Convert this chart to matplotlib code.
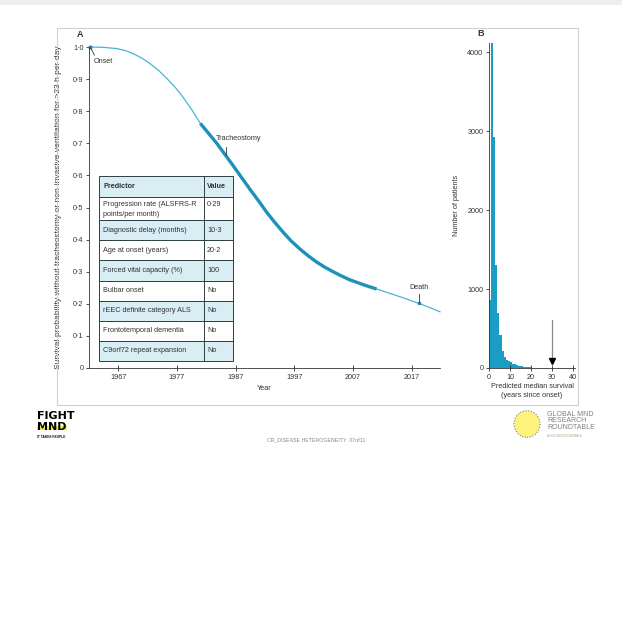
import numpy as np
import matplotlib
matplotlib.use("Agg")
import matplotlib.pyplot as plt
from matplotlib.patches import Rectangle, Circle

plt.rcParams['font.family'] = ['Liberation Sans', 'DejaVu Sans']

# panel A: survival curve of one simulated patient
years = [1962.2, 1964.5, 1966.8, 1968.2, 1969.5, 1971.0, 1972.4, 1973.9, 1975.3,
         1976.7, 1978.0, 1979.5, 1981.0, 1982.4, 1983.8, 1985.2, 1986.6, 1988.0,
         1989.4, 1990.9, 1992.3, 1993.7, 1995.1, 1996.5, 1998.0, 1999.4, 2000.8,
         2002.2, 2003.6, 2005.0, 2006.4, 2009.0, 2011.0, 2013.0, 2015.0, 2016.7,
         2018.4, 2020.1, 2021.8]
survival = [1.000, 0.999, 0.995, 0.989, 0.980, 0.966, 0.949, 0.927, 0.902,
            0.875, 0.845, 0.806, 0.762, 0.731, 0.700, 0.665, 0.630, 0.594,
            0.558, 0.521, 0.485, 0.453, 0.423, 0.395, 0.370, 0.349, 0.330,
            0.314, 0.300, 0.287, 0.275, 0.258, 0.246, 0.234, 0.222, 0.211,
            0.200, 0.188, 0.175]
onset_year = 1962.2
trach_start = 1981.0
trach_end = 2011.0
trach_label_year = 1985.4
death_year = 2018.2

year_ticks = [1967, 1977, 1987, 1997, 2007, 2017]
surv_ticks = [0, 0.1, 0.2, 0.3, 0.4, 0.5, 0.6, 0.7, 0.8, 0.9, 1.0]
surv_labels = ["0", "0·1", "0·2", "0·3", "0·4", "0·5", "0·6", "0·7", "0·8", "0·9", "1·0"]

predictors = ["Progression rate (ALSFRS-R\npoints/per month)", "Diagnostic delay (months)",
              "Age at onset (years)", "Forced vital capacity (%)", "Bulbar onset",
              "rEEC definite category ALS", "Frontotemporal dementia",
              "C9orf72 repeat expansion"]
values = ["0·29", "10·3", "20·2", "100", "No", "No", "No", "No"]

# panel B: histogram of predicted median survival
bin_edges = list(range(0, 26))
counts = [860, 4150, 2930, 1310, 700, 420, 220, 140, 105, 85, 70, 55, 45, 36, 28,
          22, 17, 13, 10, 8, 6, 4, 3, 2, 1]
count_ticks = [0, 1000, 2000, 3000, 4000]
surv_year_ticks = [0, 10, 20, 30, 40]
patient_median = 30

W, H = 622, 637
fig = plt.figure(figsize=(W / 100, H / 100), dpi=100)


def box(x0, y0, x1, y1):
    return [x0 / W, 1 - y1 / H, (x1 - x0) / W, (y1 - y0) / H]


# slide background bits
fig.patches.append(Rectangle((0, 1 - 5 / H), 1, 5 / H, transform=fig.transFigure,
                             facecolor="#efefef", edgecolor="none"))
fig.patches.append(Rectangle((57 / W, 1 - 405 / H), 521 / W, 377 / H,
                             transform=fig.transFigure, fill=False,
                             edgecolor="#d0d0d0", lw=0.8))

dark = "#333333"
thin_col = "#4ab3d8"
thick_col = "#1d92b8"
fs = 5.2

# ---- panel A ----
ax = fig.add_axes(box(89, 47, 440, 368))
yr = np.array(years)
sv = np.array(survival)
ax.plot(yr, sv, color=thin_col, lw=0.9, clip_on=False)
m = (yr >= trach_start) & (yr <= trach_end)
ax.plot(yr[m], sv[m], color=thick_col, lw=2.4, solid_capstyle="butt")
ax.plot([onset_year], [1.0], "o", ms=2, color="#2a7f9c", clip_on=False)

ax.set_xlim(1962.05, 2021.8)
ax.set_ylim(0, 1.0)
ax.set_xticks(year_ticks)
ax.set_xticklabels([str(y) for y in year_ticks])
ax.set_yticks(surv_ticks)
ax.set_yticklabels(surv_labels)
for s in ["top", "right"]:
    ax.spines[s].set_visible(False)
for s in ["left", "bottom"]:
    ax.spines[s].set_color(dark)
    ax.spines[s].set_linewidth(0.6)
ax.tick_params(axis="y", length=2.5, width=0.6, pad=1.5, labelsize=fs, colors=dark)
ax.tick_params(axis="x", direction="inout", length=4, width=0.6, pad=2, labelsize=fs,
               colors=dark)
ax.set_xlabel("Year", fontsize=fs, color=dark, labelpad=3)
ax.set_ylabel("Survival probability without tracheostomy or non-invasive ventilation "
              "for >23 h per day", fontsize=6.1, color=dark, labelpad=8)
ax.text(-0.025, 1.03, "A", transform=ax.transAxes, fontsize=6.5, fontweight="bold",
        color=dark, ha="center")

ax.annotate("Onset", xy=(onset_year + 0.2, 0.995), xytext=(onset_year + 0.7, 0.955),
            fontsize=fs, color=dark, ha="left", va="center",
            arrowprops=dict(arrowstyle="-", color=dark, lw=0.6,
                            shrinkA=0, shrinkB=0, relpos=(0.1, 1.0)))
ty = np.interp(trach_label_year, yr, sv)
ax.plot([trach_label_year, trach_label_year], [ty + 0.005, ty + 0.03], color=dark, lw=0.6)
ax.text(trach_label_year - 1.8, ty + 0.055, "Tracheostomy", fontsize=fs, color=dark,
        ha="left", va="center")
dy = np.interp(death_year, yr, sv)
ax.plot([death_year], [dy], "o", ms=1.5, color="#2a7f9c")
ax.plot([death_year, death_year], [dy + 0.005, dy + 0.028], color=dark, lw=0.6)
ax.text(death_year, dy + 0.05, "Death", fontsize=fs, color=dark, ha="center",
        va="center")

# ---- predictor table ----
tab = fig.add_axes(box(99, 176, 233, 361))
tab.set_axis_off()
row_h = [21, 23, 20, 20, 20, 20, 20, 20, 20]
total = sum(row_h)
tab.set_xlim(0, 134)
tab.set_ylim(total, 0)
split = 105
light = "#d8edf4"
y0 = 0
rows = [("Predictor", "Value")] + list(zip(predictors, values))
for i, (p, v) in enumerate(rows):
    h = row_h[i]
    fc = light if i % 2 == 0 else "white"
    tab.add_patch(Rectangle((0, y0), 134, h, facecolor=fc, edgecolor="#2f3f3f", lw=0.7,
                            clip_on=False))
    tab.plot([split, split], [y0, y0 + h], color="#2f3f3f", lw=0.7)
    weight = "bold" if i == 0 else "normal"
    if i == 1:
        tab.text(4, y0 + 4, p, fontsize=fs, color=dark, ha="left", va="top",
                 linespacing=1.5)
        tab.text(split + 3, y0 + 7, v, fontsize=fs, color=dark, ha="left", va="center")
    else:
        tab.text(4, y0 + h / 2, p, fontsize=fs, color=dark, ha="left", va="center",
                 fontweight=weight)
        tab.text(split + 3, y0 + h / 2, v, fontsize=fs, color=dark, ha="left",
                 va="center", fontweight=weight)
    y0 += h

# ---- panel B ----
bx = fig.add_axes(box(489, 43, 575, 368))
bx.bar(bin_edges[:-1], counts, width=1, align="edge", color="#1a9cc4", edgecolor="none")
bx.set_xlim(0, 41)
bx.set_ylim(0, 4120)
bx.set_xticks(surv_year_ticks)
bx.set_yticks(count_ticks)
for s in ["top", "right"]:
    bx.spines[s].set_visible(False)
for s in ["left", "bottom"]:
    bx.spines[s].set_color(dark)
    bx.spines[s].set_linewidth(0.6)
bx.tick_params(axis="y", length=2.5, width=0.6, pad=1.5, labelsize=fs, colors=dark)
bx.tick_params(axis="x", direction="inout", length=4, width=0.6, pad=2, labelsize=fs,
               colors=dark)
bx.set_xlabel("Predicted median survival\n(years since onset)", fontsize=fs,
              color=dark, labelpad=2, linespacing=1.4)
bx.set_ylabel("Number of patients", fontsize=fs, color=dark, labelpad=5)
bx.text(-0.1, 1.02, "B", transform=bx.transAxes, fontsize=6.5, fontweight="bold",
        color=dark, ha="center")
bx.plot([patient_median, patient_median], [110, 610], color="#888888", lw=0.9)
bx.plot([patient_median], [95], marker="v", ms=4, color="black")

# ---- footer ----
fig.text(37 / W, 1 - 416 / H, "FIGHT", fontsize=8, fontweight="bold", color="black",
         family="DejaVu Sans", va="center", ha="left")
fig.patches.append(Rectangle((37 / W, 1 - 430 / H), 30 / W, 4 / H,
                             transform=fig.transFigure, facecolor="#f2ec3a",
                             edgecolor="none"))
fig.text(37 / W, 1 - 426.5 / H, "MND", fontsize=8, fontweight="bold", color="black",
         family="DejaVu Sans", va="center", ha="left")
fig.text(37 / W, 1 - 437 / H, "IT TAKES PEOPLE", fontsize=2.3, fontweight="bold",
         color="black", va="center", ha="left")
fig.text(316 / W, 1 - 440 / H, "CR_DISEASE HETEROGENEITY  07of11", fontsize=3.8,
         color="#888888", va="center", ha="center")
fig.patches.append(Circle((527 / W, 1 - 424 / H), 13 / W, transform=fig.transFigure,
                          facecolor="#fdf27a", edgecolor="#7a7aa0", lw=0.8,
                          linestyle=(0, (1, 1.5))))
fig.text(547 / W, 1 - 421 / H, "GLOBAL MND\nRESEARCH\nROUNDTABLE", fontsize=5,
         color="#808080", va="center", ha="left", linespacing=0.95)
fig.text(547 / W, 1 - 436 / H, "ALS SCIENCE ROUNDTABLE", fontsize=1.8, color="#a0a080",
         va="center", ha="left")

fig.savefig("out.png", dpi=100)
